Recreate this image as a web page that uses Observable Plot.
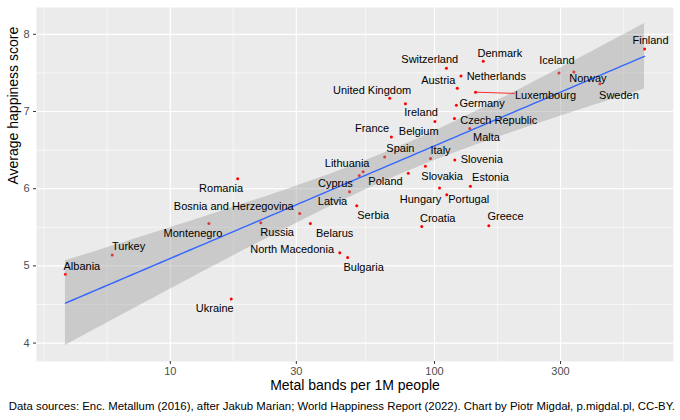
<!DOCTYPE html>
<html><head><meta charset="utf-8">
<script src="https://cdn.jsdelivr.net/npm/d3@7"></script>
<script src="https://cdn.jsdelivr.net/npm/@observablehq/plot@0.6"></script>
<style>
body{margin:0;background:#fff;font-family:"Liberation Sans",Arial,Helvetica,sans-serif;}
#chart svg{display:block;}
#cap{font-size:11.4px;line-height:16px;text-align:right;padding-right:5px;color:#000;white-space:nowrap;}
</style></head><body>
<div id="chart"></div>
<div id="cap">Data sources: Enc. Metallum (2016), after Jakub Marian; World Happiness Report (2022). Chart by Piotr Migdał, p.migdal.pl, CC-BY.</div>
<script>
const countries = ["Finland","Denmark","Switzerland","Iceland","Norway","Sweden","Netherlands","Austria","Luxembourg","Germany","United Kingdom","Ireland","Belgium","Czech Republic","Malta","France","Spain","Italy","Slovenia","Slovakia","Poland","Lithuania","Cyprus","Latvia","Serbia","Hungary","Portugal","Estonia","Croatia","Greece","Bosnia and Herzegovina","Belarus","Russia","Montenegro","Romania","North Macedonia","Bulgaria","Turkey","Albania","Ukraine"];
const metalBands = [624,153,111,296,337,423,126,122,143,121,67.7,77.6,100.4,119,136,68.7,64.8,96.6,119.4,92.4,79.6,53.7,51.9,47.7,50.8,104.5,111.3,136.8,89.5,160.6,30.9,33.9,22.0,14.0,18.0,43.8,46.9,6.03,4.01,17.0];
const happiness = [7.81,7.65,7.56,7.50,7.51,7.36,7.46,7.30,7.25,7.08,7.17,7.10,6.87,6.91,6.78,6.67,6.41,6.39,6.37,6.29,6.20,6.22,6.17,5.96,5.78,6.01,5.92,6.03,5.51,5.52,5.68,5.55,5.56,5.55,6.13,5.17,5.11,5.14,4.89,4.57];

const xTicks = [10,30,100,300];
const xMinor = [3.33,5.77,17.3,54.8,173,520];
const yTicks = [4,5,6,7,8];
const yMinor = [4.5,5.5,6.5,7.5];

const xTitle = "Metal bands per 1M people";
const yTitle = "Average happiness score";

// label placement (pixel offsets from the point, emulating ggrepel)
const labelOffset = {
  "Finland":[6,-8.4],"Denmark":[16.6,-8.3],"Switzerland":[-16.7,-8.7],"Iceland":[-2,-12.3],
  "Norway":[14,6.3],"Sweden":[19,11.3],"Netherlands":[35.3,0.7],"Austria":[-19,-8.2],
  "Luxembourg":[70,3],"Germany":[25.7,-2.3],"United Kingdom":[-17.6,-8.2],"Ireland":[15.7,9],
  "Belgium":[-16.2,10],"Czech Republic":[44.3,1.7],"Malta":[16.7,9.2],"France":[-19.3,-8.2],
  "Spain":[15.7,-8.5],"Italy":[10,-8.2],"Slovenia":[27,-1],"Slovakia":[16.7,10],
  "Poland":[-22.8,8.2],"Lithuania":[-16,-8],"Cyprus":[-23.8,8],"Latvia":[-17,9.4],
  "Serbia":[16.4,9.6],"Hungary":[-19,11.7],"Portugal":[22,4.8],"Estonia":[20,-8.8],
  "Croatia":[16,-8.4],"Greece":[16.7,-9],"Bosnia and Herzegovina":[-66,-7.3],"Belarus":[24.3,9.6],
  "Russia":[16.4,10],"Montenegro":[-16,10],"Romania":[-16.6,10],"North Macedonia":[-47.6,-3],
  "Bulgaria":[16,10],"Turkey":[16.3,-8.3],"Albania":[16.4,-8.4],"Ukraine":[-16.4,9.6]
};

const data = countries.map((c,i)=>({country:c, x:metalBands[i], y:happiness[i]}));

// linear model y ~ log10(x), 95% CI like geom_smooth(method="lm")
const lx = data.map(d=>Math.log10(d.x));
const n = data.length;
const mx = d3.mean(lx), my = d3.mean(data, d=>d.y);
let sxx=0, sxy=0;
data.forEach((d,i)=>{sxx+=(lx[i]-mx)**2; sxy+=(lx[i]-mx)*(d.y-my);});
const b = sxy/sxx, a = my - b*mx;
let sse=0; data.forEach((d,i)=>{sse+=(d.y-(a+b*lx[i]))**2;});
const s = Math.sqrt(sse/(n-2));
const tq = 2.024; // t(0.975, df=38)
const [lmin,lmax] = d3.extent(lx);
const fit = d3.range(80).map(k=>{
  const l0 = lmin + (lmax-lmin)*k/79;
  const f = a + b*l0;
  const se = s*Math.sqrt(1/n + (l0-mx)**2/sxx);
  return {x:10**l0, fit:f, lo:f-tq*se, hi:f+tq*se};
});

// ggplot-like 5% expansion
const xr = lmax-lmin;
const xDomain = [10**(lmin-0.05*xr), 10**(lmax+0.05*xr)];
const yAll = data.map(d=>d.y).concat(fit.map(d=>d.lo), fit.map(d=>d.hi));
const [ymin,ymax] = d3.extent(yAll);
const yr = ymax-ymin;
const yDomain = [ymin-0.05*yr, ymax+0.05*yr];

const W=680, H=398;
const font = '"Liberation Sans", Arial, Helvetica, sans-serif';
const lux = data.filter(d=>d.country==="Luxembourg");

const marks = [
  Plot.frame({fill:"#EBEBEB", stroke:null}),
  Plot.ruleX(xMinor, {stroke:"white", strokeWidth:0.6}),
  Plot.ruleY(yMinor, {stroke:"white", strokeWidth:0.6}),
  Plot.ruleX(xTicks, {stroke:"white", strokeWidth:1.2}),
  Plot.ruleY(yTicks, {stroke:"white", strokeWidth:1.2}),
  Plot.axisX({ticks:xTicks, tickFormat:d=>String(d), tickSize:3, tickPadding:2.5, fontSize:11, fill:"#4D4D4D", stroke:"#333333", label:null}),
  Plot.axisY({ticks:yTicks, tickFormat:d=>String(d), tickSize:3, tickPadding:4, fontSize:11, fill:"#4D4D4D", stroke:"#333333", label:null}),
  Plot.dot(data, {x:"x", y:"y", r:1.5, fill:"red", stroke:null}),
  Plot.areaY(fit, {x:"x", y1:"lo", y2:"hi", fill:"#999999", fillOpacity:0.4}),
  Plot.line(fit, {x:"x", y:"fit", stroke:"#3366FF", strokeWidth:1.4}),
  Plot.vector(lux, {x:"x", y:"y", length:39, rotate:91.8, anchor:"start", stroke:"red", strokeWidth:0.8,
    shape:{draw(ctx,l){ctx.moveTo(0,0); ctx.lineTo(0,-l);}}}),
  ...data.map(d=>Plot.text([d], {x:"x", y:"y", text:"country", dx:labelOffset[d.country][0], dy:labelOffset[d.country][1], fontSize:11, fill:"black"})),
  Plot.text([xTitle], {frameAnchor:"bottom", dy:28.5, fontSize:14, fill:"black"}),
  Plot.text([yTitle], {frameAnchor:"left", dx:-23, rotate:-90, fontSize:14, fill:"black"})
];

const chart = Plot.plot({
  width:W, height:H,
  marginLeft:36, marginRight:7, marginTop:7, marginBottom:H-361,
  x:{type:"log", domain:xDomain},
  y:{domain:yDomain},
  style:{fontFamily:font, fontSize:"11px", background:"white", overflow:"visible"},
  marks
});
document.getElementById("chart").appendChild(chart);
</script>
</body></html>
